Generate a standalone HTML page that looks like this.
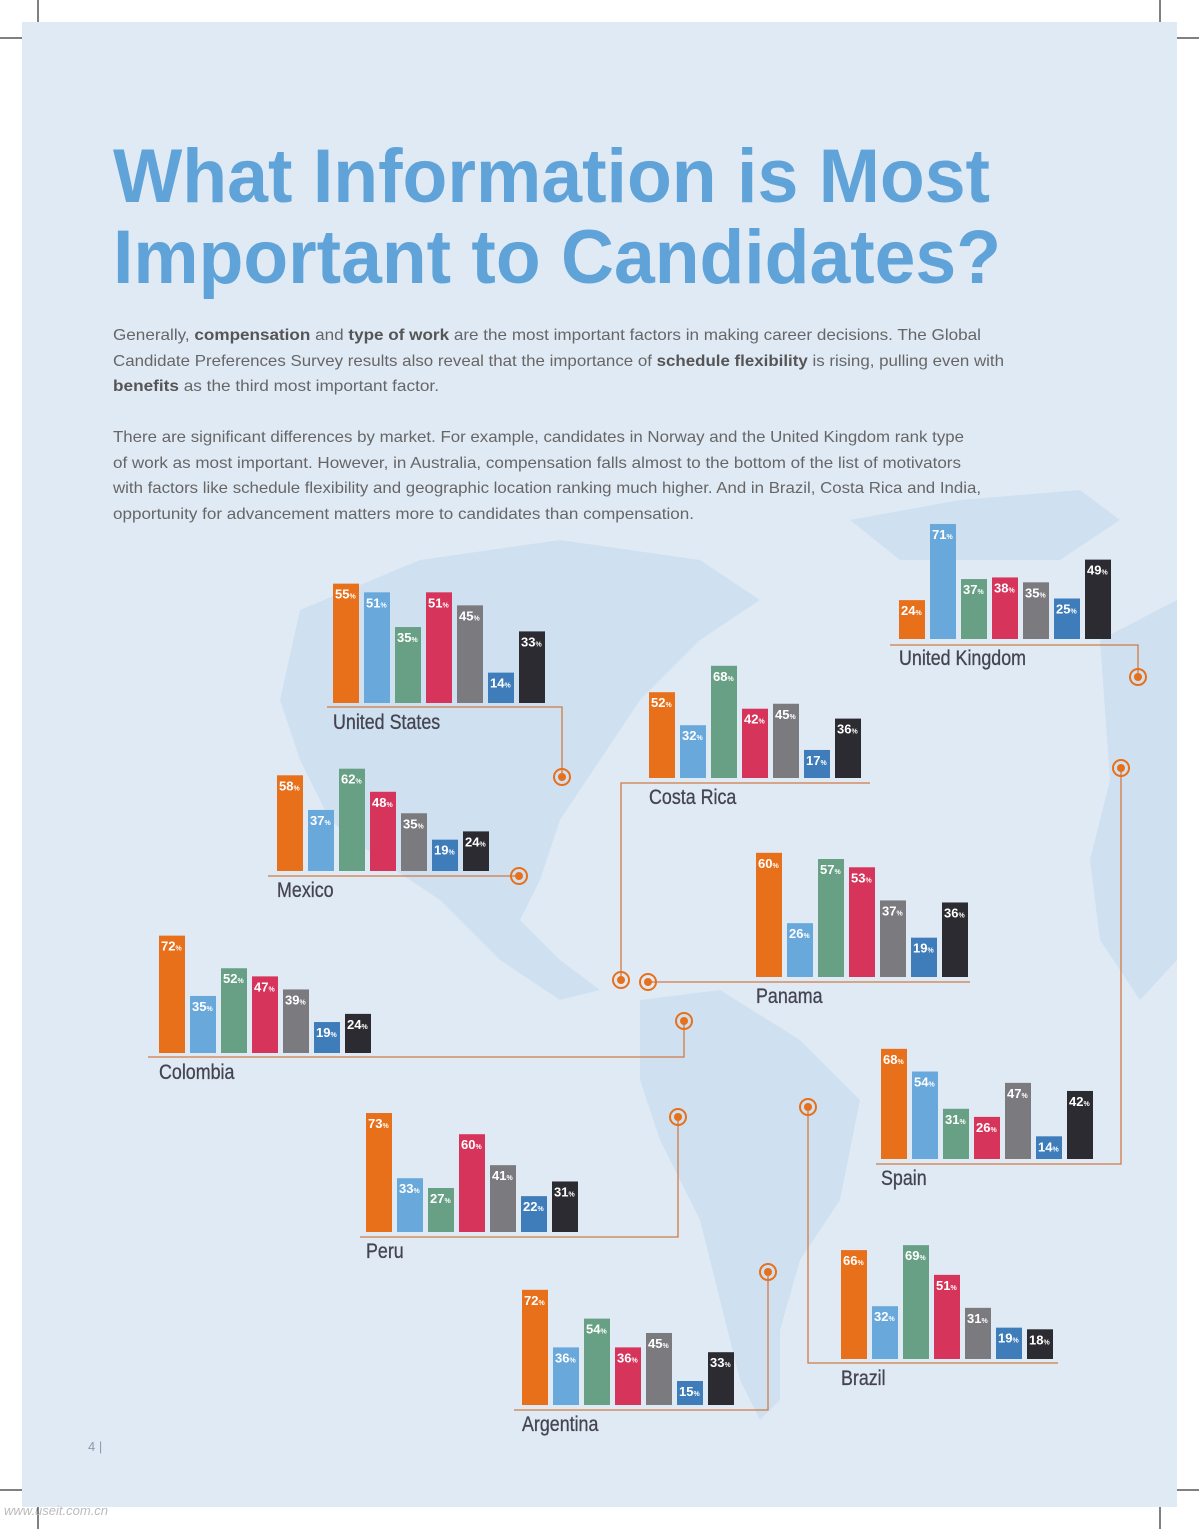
<!DOCTYPE html>
<html><head><meta charset="utf-8"><style>
html,body{margin:0;padding:0;background:#fff;}
svg{display:block;}
</style></head><body>
<svg id="page" width="1199" height="1529" viewBox="0 0 1199 1529" xmlns="http://www.w3.org/2000/svg" font-family="Liberation Sans, sans-serif">
<defs><clipPath id="panelClip"><rect x="22" y="22" width="1155" height="1485"/></clipPath></defs>
<rect x="22" y="22" width="1155" height="1485" fill="#e0eaf5"/>
<g fill="#cfe0f0" clip-path="url(#panelClip)">
<path d="M300 610 L420 560 L560 540 L700 560 L760 600 L700 640 L640 700 L600 760 L560 820 L540 880 L520 920 L560 960 L600 990 L560 1000 L500 960 L440 900 L380 860 L330 820 L300 760 L280 700 Z"/>
<path d="M640 1000 L720 990 L800 1040 L860 1100 L840 1200 L800 1260 L780 1330 L780 1400 L760 1420 L740 1380 L720 1300 L700 1220 L660 1140 L640 1080 Z"/>
<path d="M850 520 L960 500 L1080 490 L1120 520 L1060 560 L980 560 L900 560 Z"/>
<path d="M1100 640 L1177 600 L1177 960 L1140 1000 L1100 940 L1090 860 L1110 780 Z"/>
</g>
<g stroke="#000" stroke-width="1">
<line x1="38" y1="0" x2="38" y2="22"/><line x1="0" y1="38" x2="22" y2="38"/>
<line x1="1160" y1="0" x2="1160" y2="22"/><line x1="1177" y1="38" x2="1199" y2="38"/>
<line x1="38" y1="1507" x2="38" y2="1529"/><line x1="0" y1="1490" x2="22" y2="1490"/>
<line x1="1160" y1="1507" x2="1160" y2="1529"/><line x1="1177" y1="1490" x2="1199" y2="1490"/>
</g>
<g fill="#5fa3d9" font-weight="bold" font-size="76">
<text x="113" y="202" textLength="877" lengthAdjust="spacingAndGlyphs">What Information is Most</text>
<text x="113" y="283" textLength="888" lengthAdjust="spacingAndGlyphs">Important to Candidates?</text>
</g>
<g fill="#666" font-size="16">
<text x="113" y="340" textLength="868" lengthAdjust="spacingAndGlyphs">Generally, <tspan font-weight="bold" fill="#555">compensation</tspan> and <tspan font-weight="bold" fill="#555">type of work</tspan> are the most important factors in making career decisions. The Global</text>
<text x="113" y="366" textLength="891" lengthAdjust="spacingAndGlyphs">Candidate Preferences Survey results also reveal that the importance of <tspan font-weight="bold" fill="#555">schedule flexibility</tspan> is rising, pulling even with</text>
<text x="113" y="391" textLength="326" lengthAdjust="spacingAndGlyphs"><tspan font-weight="bold" fill="#555">benefits</tspan> as the third most important factor.</text>
<text x="113" y="442" textLength="851" lengthAdjust="spacingAndGlyphs">There are significant differences by market. For example, candidates in Norway and the United Kingdom rank type</text>
<text x="113" y="468" textLength="848" lengthAdjust="spacingAndGlyphs">of work as most important. However, in Australia, compensation falls almost to the bottom of the list of motivators</text>
<text x="113" y="493" textLength="868" lengthAdjust="spacingAndGlyphs">with factors like schedule flexibility and geographic location ranking much higher. And in Brazil, Costa Rica and India,</text>
<text x="113" y="519" textLength="581" lengthAdjust="spacingAndGlyphs">opportunity for advancement matters more to candidates than compensation.</text>
</g>
<text x="88" y="1451" font-size="13" fill="#8a9ab0">4  |</text>
<text x="4" y="1515" font-size="13" fill="#bbb" font-style="italic">www.useit.com.cn</text>
<g id="charts"></g>
</svg>
<script>
const categories = ["compensation","type-of-work","benefits","schedule-flexibility","advancement","location","company-reputation"];
const usValues = [55,51,35,51,45,14,33];
const ukValues = [24,71,37,38,35,25,49];
const costaRicaValues = [52,32,68,42,45,17,36];
const mexicoValues = [58,37,62,48,35,19,24];
const panamaValues = [60,26,57,53,37,19,36];
const colombiaValues = [72,35,52,47,39,19,24];
const spainValues = [68,54,31,26,47,14,42];
const peruValues = [73,33,27,60,41,22,31];
const argentinaValues = [72,36,54,36,45,15,33];
const brazilValues = [66,32,69,51,31,19,18];

const colors = ["#e8701a","#68a8db","#68a085","#d6345a","#7b7a7f","#3f7dba","#2b2b31"];
const NS = "http://www.w3.org/2000/svg";
const root = document.getElementById("charts");
function mk(tag, attrs, parent){const e=document.createElementNS(NS,tag);for(const k in attrs)e.setAttribute(k,attrs[k]);parent.appendChild(e);return e;}

const charts = [
 {name:"United States",vals:usValues,x:333,base:703,s:2.17,line:"M327 707 L562 707 L562 777",m:[562,777]},
 {name:"United Kingdom",vals:ukValues,x:899,base:639,s:1.62,line:"M890 645 L1138 645 L1138 677",m:[1138,677]},
 {name:"Costa Rica",vals:costaRicaValues,x:649,base:778,s:1.65,line:"M870 783 L621 783 L621 980",m:[621,980]},
 {name:"Mexico",vals:mexicoValues,x:277,base:871,s:1.65,line:"M268 876 L519 876",m:[519,876]},
 {name:"Panama",vals:panamaValues,x:756,base:977,s:2.07,line:"M970 982 L648 982",m:[648,982]},
 {name:"Colombia",vals:colombiaValues,x:159,base:1053,s:1.63,line:"M148 1057 L684 1057 L684 1021",m:[684,1021]},
 {name:"Spain",vals:spainValues,x:881,base:1159,s:1.62,line:"M876 1164 L1121 1164 L1121 768",m:[1121,768]},
 {name:"Peru",vals:peruValues,x:366,base:1232,s:1.63,line:"M360 1237 L678 1237 L678 1117",m:[678,1117]},
 {name:"Argentina",vals:argentinaValues,x:522,base:1405,s:1.6,line:"M514 1410 L768 1410 L768 1272",m:[768,1272]},
 {name:"Brazil",vals:brazilValues,x:841,base:1359,s:1.65,line:"M1058 1363 L808 1363 L808 1107",m:[808,1107]}
];
const partial = mk("circle",{cx:1186,cy:684,r:8,fill:"none",stroke:"#e8701a","stroke-width":2,"clip-path":"url(#panelClip)"},root);



charts.forEach(c=>{
  const slug=c.name.toLowerCase().replace(/ /g,'-');
  const g=mk("g",{},root);
  
  
  const ln=mk("path",{d:c.line,fill:"none",stroke:"#d07a45","stroke-width":1.3},g);
  
  
  const ring=mk("circle",{cx:c.m[0],cy:c.m[1],r:8,fill:"none",stroke:"#e8701a","stroke-width":2},g);
  
  
  mk("circle",{cx:c.m[0],cy:c.m[1],r:4,fill:"#e8701a"},g);
  c.vals.forEach((v,i)=>{
    const h=v*c.s, bx=c.x+i*31, top=c.base-h;
    const r=mk("rect",{x:bx,y:top,width:26,height:h,fill:colors[i]},g);
    
    
    const t=mk("text",{x:bx+2,y:top+15,fill:"#fff","font-size":13,"font-weight":"bold"},g);
    
    
    t.textContent=v;
    const p=mk("tspan",{"font-size":7},t);p.textContent="%";
  });
  const lab=mk("text",{x:c.x,y:c.base+26,fill:"#45454f","font-size":21,"stroke":"#45454f","stroke-width":0.3},g);
  
  
  lab.textContent=c.name;
  const w=lab.getComputedTextLength();
  lab.setAttribute('textLength', (w*0.85).toFixed(1));
  lab.setAttribute('lengthAdjust','spacingAndGlyphs');
});
</script>
</body></html>
